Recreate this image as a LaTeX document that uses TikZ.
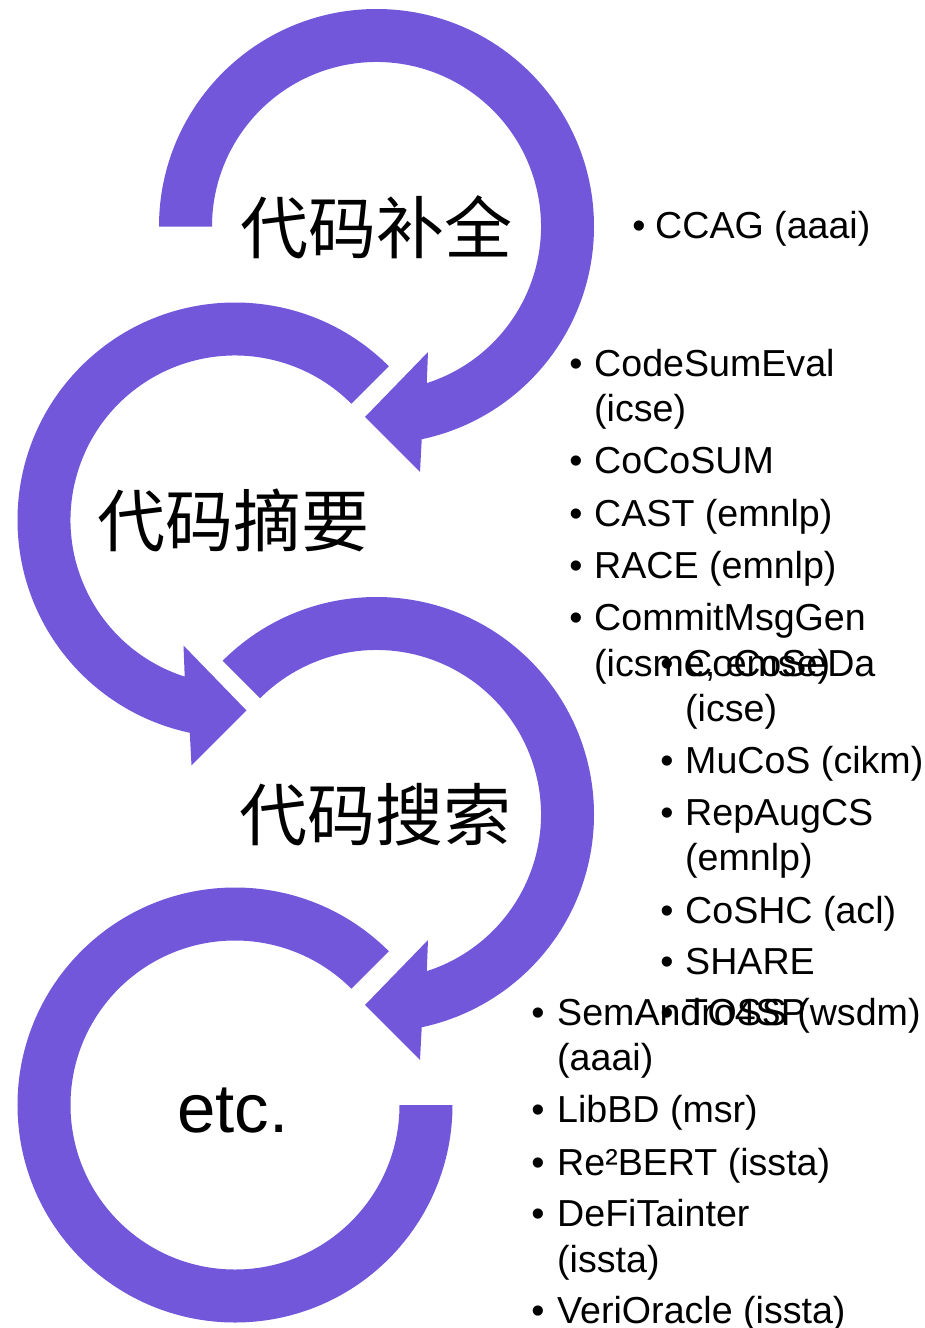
\documentclass[tikz,border=0pt]{standalone}
\usepackage{fontspec}
\setmainfont{Liberation Sans}
\newfontfamily\cjk{Noto Sans CJK SC}
\definecolor{ringpurple}{RGB}{114,87,219}
\tikzset{
  ring/.style={fill=ringpurple, draw=none},
  cjklabel/.style={anchor=base, inner sep=0pt, font=\cjk\fontsize{68}{72}\selectfont},
  etclabel/.style={anchor=base, inner sep=0pt, font=\fontsize{69}{72}\selectfont},
  lst/.style={anchor=base west, inner sep=0pt, font=\fontsize{37.6}{44}\selectfont},
  bul/.style={anchor=base, inner sep=0pt, font=\fontsize{37.6}{44}\selectfont},
}
\newcommand\bitem[5]{%
  \node[bul] (#1b) at (#2,-#4) {•};
  \node[lst] (#1) at (#3,-#4) {#5};}
\newcommand\bcont[4]{\node[lst] (#1) at (#2,-#3) {#4};}
\begin{document}
\begin{tikzpicture}[x=1pt,y=1pt]
\useasboundingbox (0,0) rectangle (925,-1328);
\fill[white] (0,0) rectangle (925,-1328);

% ring 1 (clockwise, arrow at bottom)
\begin{scope}[shift={(376.5,-226.5)}]
\fill[ring] (180:217.5pt) arc[start angle=180,end angle=-78,radius=217.5pt]
  -- (-79.95:249.3pt) -- (-93.45:190.8pt) -- (-67.7:135.7pt) -- (-72.2:164.5pt)
  arc[start angle=-72.2,end angle=180,radius=164.5pt] -- cycle;
\end{scope}
% ring 2 (counter-clockwise)
\begin{scope}[shift={(235,-520)}]
\fill[ring] (45:217.5pt) arc[start angle=45,end angle=258,radius=217.5pt]
  -- (259.95:249.3pt) -- (273.45:190.8pt) -- (247.7:135.7pt) -- (252.2:164.5pt)
  arc[start angle=252.2,end angle=45,radius=164.5pt] -- cycle;
\end{scope}
% ring 3 (clockwise)
\begin{scope}[shift={(376.5,-814.5)}]
\fill[ring] (135:217.5pt) arc[start angle=135,end angle=-78,radius=217.5pt]
  -- (-79.95:249.3pt) -- (-93.45:190.8pt) -- (-67.7:135.7pt) -- (-72.2:164.5pt)
  arc[start angle=-72.2,end angle=135,radius=164.5pt] -- cycle;
\end{scope}
% ring 4 (no arrow head)
\begin{scope}[shift={(235,-1105)}]
\fill[ring] (45:217.5pt) arc[start angle=45,end angle=360,radius=217.5pt]
  -- (0:164.5pt) arc[start angle=360,end angle=45,radius=164.5pt] -- cycle;
\end{scope}

% centre labels
\node[cjklabel] (t1) at (376.5,-253) {代码补全};
\node[cjklabel] (t2) at (233,-546) {代码摘要};
\node[cjklabel] (t3) at (375,-840) {代码搜索};
\node[etclabel] (t4) at (233,-1132) {etc.};

% list 1
\bitem{a1}{639}{655}{238}{CCAG (aaai)}

% list 2
\bitem{b1}{576}{594}{376}{CodeSumEval}
\bcont{b1c}{594}{421}{(icse)}
\bitem{b2}{576}{594}{473}{CoCoSUM}
\bitem{b3}{576}{594}{526}{CAST (emnlp)}
\bitem{b4}{576}{594}{578}{RACE (emnlp)}
\bitem{b5}{576}{594}{630}{CommitMsgGen}
\bcont{b5c}{594}{676}{(icsme, emse)}

% list 3
\bitem{c1}{667}{685}{676}{CoCoSeDa}
\bcont{c1c}{685}{721}{(icse)}
\bitem{c2}{667}{685}{773}{MuCoS (cikm)}
\bitem{c3}{667}{685}{825}{RepAugCS}
\bcont{c3c}{685}{870}{(emnlp)}
\bitem{c4}{667}{685}{923}{CoSHC (acl)}
\bitem{c5}{667}{685}{974}{SHARE}
\bitem{c6}{667}{685}{1025}{TOSS (wsdm)}

% list 4
\bitem{d1}{538}{557}{1025}{SemAndro4SP}
\bcont{d1c}{557}{1070}{(aaai)}
\bitem{d2}{538}{557}{1122}{LibBD (msr)}
\bitem{d3}{538}{557}{1175}{Re²BERT (issta)}
\bitem{d4}{538}{557}{1226}{DeFiTainter}
\bcont{d4c}{557}{1272}{(issta)}
\bitem{d5}{538}{557}{1323}{VeriOracle (issta)}
\end{tikzpicture}
\end{document}
